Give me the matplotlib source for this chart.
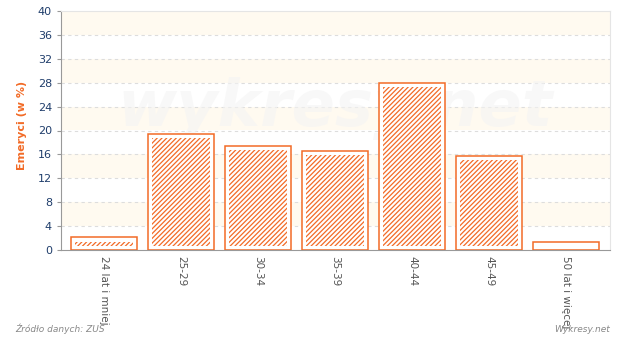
import numpy as np
import matplotlib
matplotlib.use("Agg")
import matplotlib.pyplot as plt

categories = ["24 lat i mniej", "25-29", "30-34", "35-39", "40-44", "45-49", "50 lat i więcej"]
values = [2.1, 19.4, 17.4, 16.5, 28.0, 15.7, 1.3]
yticks = list(range(0, 41, 4))

orange = '#F26B27'
plt.rcParams['hatch.linewidth'] = 0.9
plt.rcParams['hatch.color'] = orange

fig = plt.figure(figsize=(6.2, 3.37), dpi=100)
ax = fig.add_axes([61 / 620, 1 - 250 / 337, 549 / 620, 239 / 337])

x = np.arange(len(categories))
width = 0.857
inset_x = 0.055
inset_y = 0.68

# alternating background bands
for lo in yticks[1:-1:2]:
    ax.axhspan(lo, lo + 4, color='#FFFAF0', zorder=0, lw=0)
for t in yticks[1:-1]:
    ax.axhline(t, color='#DDDDDD', lw=0.8, ls=(0, (3, 3)), zorder=1)

ax.bar(x, values, width=width, facecolor='white', edgecolor=orange, lw=1.1, zorder=2)
for xi, v in zip(x, values):
    h = v - 2 * inset_y
    if h > 0:
        ax.bar(xi, h, bottom=inset_y, width=width - 2 * inset_x, facecolor='none',
               edgecolor=orange, hatch='///////', lw=0, zorder=3)

ax.text(0.5, 0.59, 'wykresy.net', transform=ax.transAxes, ha='center', va='center',
        fontsize=46, fontweight='bold', style='italic', color='#F4F4F4', alpha=0.6, zorder=1.5)

ax.set_xlim(-0.558, 6.571)
ax.set_ylim(0, 40)
ax.set_yticks(yticks)
ax.tick_params(axis='y', labelsize=8, labelcolor='#1F3D6B', length=3, color='#999999')
ax.set_xticks(x)
ax.set_xticklabels(categories, rotation=-90, fontsize=7.5, color='#555555', va='top')
ax.tick_params(axis='x', length=0, pad=4)
ax.set_ylabel('Emeryci (w %)', color=orange, fontsize=8, fontweight='bold')
ax.yaxis.set_label_coords(-0.062, 0.52)

for s in ['left', 'bottom']:
    ax.spines[s].set_color('#999999')
for s in ['top', 'right']:
    ax.spines[s].set_color('#E5E5E5')

fig.text(15 / 620, 1 - 332 / 337, 'Źródło danych: ZUS', fontsize=6.5, style='italic', color='#888888')
fig.text(610 / 620, 1 - 332 / 337, 'Wykresy.net', fontsize=6.5, style='italic', color='#888888', ha='right')

fig.savefig('out.png', dpi=100)
